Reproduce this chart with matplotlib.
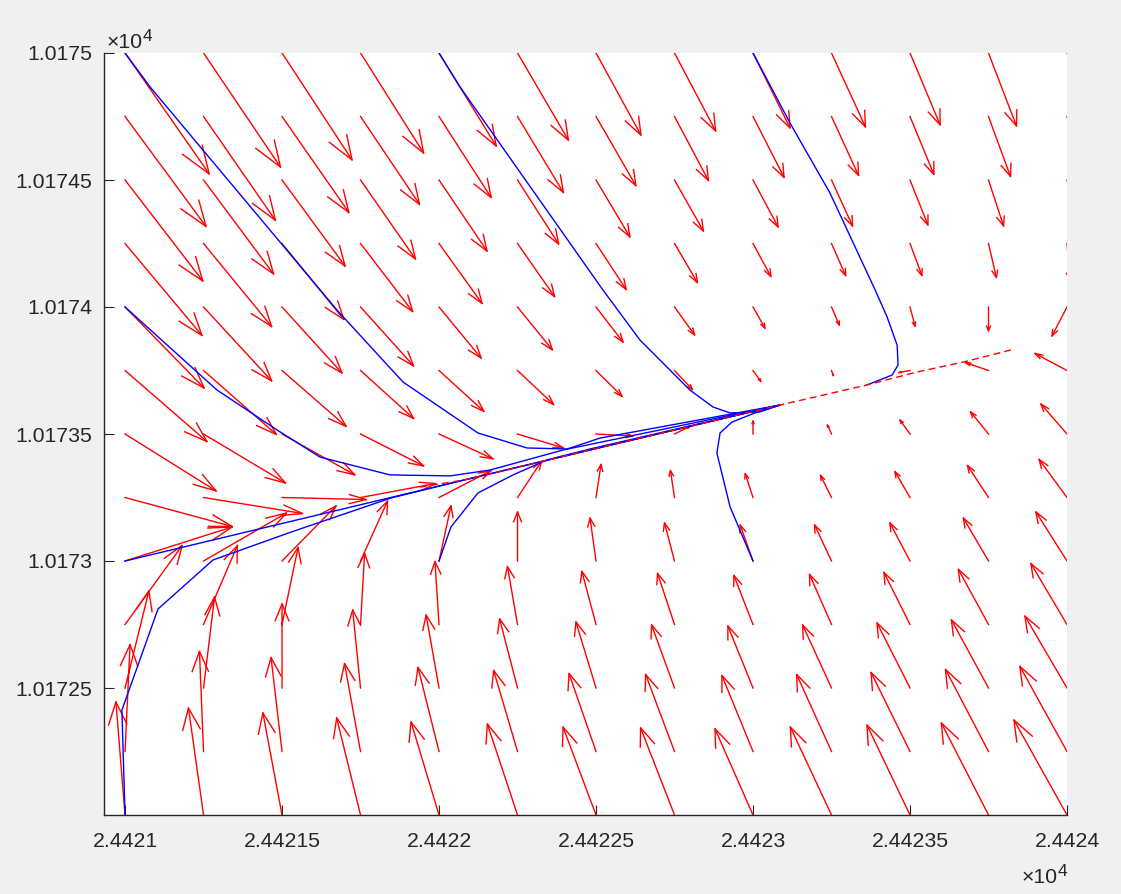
import numpy as np
import matplotlib.pyplot as plt

plt.rcParams['font.family'] = ['Liberation Sans', 'DejaVu Sans']

# quiver grid
grid_x = [24421.0, 24421.25, 24421.5, 24421.75, 24422.0, 24422.25, 24422.5,
          24422.75, 24423.0, 24423.25, 24423.5, 24423.75, 24424.0]
grid_y = [10172.0, 10172.25, 10172.5, 10172.75, 10173.0, 10173.25, 10173.5,
          10173.75, 10174.0, 10174.25, 10174.5, 10174.75, 10175.0]

# arrow components (as drawn), rows go from y=10172 up to y=10175
U = [
    [-0.029, -0.048, -0.061, -0.076, -0.089, -0.096, -0.105, -0.108, -0.121, -0.131, -0.137, -0.150, -0.169],
    [0.016, -0.013, -0.035, -0.051, -0.067, -0.076, -0.086, -0.092, -0.099, -0.111, -0.124, -0.137, -0.150],
    [0.076, 0.035, 0.000, -0.025, -0.041, -0.057, -0.064, -0.073, -0.080, -0.092, -0.105, -0.118, -0.134],
    [0.182, 0.108, 0.051, 0.013, -0.013, -0.032, -0.045, -0.054, -0.061, -0.070, -0.083, -0.096, -0.115],
    [0.341, 0.264, 0.172, 0.086, 0.038, 0.000, -0.019, -0.032, -0.041, -0.054, -0.064, -0.080, -0.099],
    [0.341, 0.315, 0.268, 0.239, 0.166, 0.076, 0.016, -0.013, -0.025, -0.035, -0.048, -0.067, -0.089],
    [0.290, 0.261, 0.232, 0.201, 0.172, 0.146, 0.118, 0.051, 0.000, -0.013, -0.032, -0.057, -0.083],
    [0.261, 0.232, 0.204, 0.169, 0.143, 0.115, 0.083, 0.057, 0.025, 0.006, -0.035, -0.073, -0.102],
    [0.252, 0.217, 0.191, 0.169, 0.134, 0.111, 0.086, 0.064, 0.038, 0.025, 0.016, 0.000, -0.048],
    [0.245, 0.217, 0.197, 0.166, 0.137, 0.118, 0.096, 0.073, 0.057, 0.045, 0.038, 0.025, 0.010],
    [0.248, 0.223, 0.201, 0.175, 0.153, 0.131, 0.108, 0.092, 0.080, 0.067, 0.057, 0.048, 0.041],
    [0.258, 0.229, 0.213, 0.188, 0.166, 0.146, 0.127, 0.108, 0.099, 0.086, 0.076, 0.070, 0.064],
    [0.268, 0.245, 0.223, 0.201, 0.182, 0.162, 0.143, 0.131, 0.118, 0.108, 0.096, 0.089, 0.080],
]
V = [
    [0.445, 0.421, 0.402, 0.382, 0.366, 0.358, 0.346, 0.343, 0.339, 0.346, 0.354, 0.362, 0.374],
    [0.421, 0.394, 0.370, 0.346, 0.331, 0.319, 0.307, 0.303, 0.299, 0.303, 0.311, 0.323, 0.335],
    [0.382, 0.358, 0.331, 0.307, 0.287, 0.272, 0.260, 0.248, 0.244, 0.248, 0.256, 0.268, 0.283],
    [0.311, 0.311, 0.303, 0.280, 0.248, 0.228, 0.209, 0.201, 0.193, 0.197, 0.205, 0.217, 0.240],
    [0.134, 0.189, 0.217, 0.236, 0.217, 0.193, 0.169, 0.150, 0.142, 0.142, 0.150, 0.169, 0.193],
    [-0.114, -0.063, -0.008, 0.055, 0.106, 0.142, 0.130, 0.106, 0.094, 0.087, 0.102, 0.126, 0.150],
    [-0.224, -0.193, -0.161, -0.126, -0.098, -0.055, -0.008, 0.031, 0.051, 0.035, 0.055, 0.087, 0.118],
    [-0.280, -0.252, -0.220, -0.189, -0.161, -0.134, -0.102, -0.075, -0.043, -0.020, -0.008, 0.031, 0.067],
    [-0.319, -0.291, -0.260, -0.232, -0.201, -0.169, -0.138, -0.110, -0.083, -0.071, -0.075, -0.094, -0.114],
    [-0.362, -0.327, -0.299, -0.268, -0.236, -0.209, -0.181, -0.154, -0.130, -0.126, -0.126, -0.134, -0.146],
    [-0.398, -0.370, -0.339, -0.311, -0.280, -0.252, -0.224, -0.201, -0.185, -0.181, -0.177, -0.181, -0.181],
    [-0.433, -0.409, -0.378, -0.346, -0.319, -0.299, -0.272, -0.252, -0.240, -0.232, -0.228, -0.236, -0.236],
    [-0.476, -0.449, -0.421, -0.394, -0.366, -0.343, -0.323, -0.307, -0.295, -0.291, -0.283, -0.287, -0.287],
]

# trajectories (blue)
traj1_x = [24421.0, 24421.080, 24421.675, 24421.885, 24422.124, 24422.280, 24422.408, 24422.513, 24423.086]
traj1_y = [10175.0, 10174.866, 10173.988, 10173.705, 10173.504, 10173.445, 10173.441, 10173.484, 10173.614]
traj2_x = [24421.0, 24421.293, 24421.484, 24421.621, 24421.844, 24422.035, 24422.162, 24422.395, 24423.086]
traj2_y = [10174.0, 10173.673, 10173.516, 10173.409, 10173.339, 10173.335, 10173.358, 10173.437, 10173.614]
traj3_x = [24421.0, 24422.080, 24422.576, 24423.086]
traj3_y = [10173.0, 10173.319, 10173.465, 10173.614]
traj4_x = [24421.0, 24420.990, 24421.105, 24421.280, 24421.529, 24421.847, 24422.080, 24422.576, 24423.086]
traj4_y = [10172.0, 10172.413, 10172.811, 10173.004, 10173.114, 10173.248, 10173.319, 10173.465, 10173.614]
traj5_x = [24422.0, 24422.038, 24422.124, 24422.236, 24422.344, 24422.481, 24423.086]
traj5_y = [10173.0, 10173.134, 10173.268, 10173.339, 10173.398, 10173.441, 10173.614]
traj6_x = [24423.0, 24422.927, 24422.885, 24422.895, 24422.933, 24423.006, 24423.086]
traj6_y = [10173.0, 10173.213, 10173.425, 10173.504, 10173.547, 10173.583, 10173.614]
traj7_x = [24422.0, 24422.067, 24422.522, 24422.640, 24422.799, 24422.873, 24422.927, 24423.022, 24423.086]
traj7_y = [10175.0, 10174.866, 10174.067, 10173.870, 10173.673, 10173.606, 10173.583, 10173.587, 10173.614]
traj8_x = [24423.0, 24423.118, 24423.245, 24423.389, 24423.427, 24423.459, 24423.462, 24423.443, 24423.404, 24423.363]
traj8_y = [10175.0, 10174.724, 10174.449, 10174.067, 10173.961, 10173.850, 10173.772, 10173.732, 10173.713, 10173.693]

# red dashed curve
dash_x = [24421.939, 24422.080, 24422.576, 24423.086, 24423.363, 24423.522, 24423.669, 24423.834]
dash_y = [10173.291, 10173.319, 10173.465, 10173.614, 10173.693, 10173.744, 10173.783, 10173.835]

x_ticks = [24421.0, 24421.5, 24422.0, 24422.5, 24423.0, 24423.5, 24424.0]
x_labels = ['2.4421', '2.44215', '2.4422', '2.44225', '2.4423', '2.44235', '2.4424']
y_ticks = [10172.5, 10173.0, 10173.5, 10174.0, 10174.5, 10175.0]
y_labels = ['1.01725', '1.0173', '1.01735', '1.0174', '1.01745', '1.0175']

fig = plt.figure(figsize=(11.21, 8.94), dpi=100, facecolor='#f0f0f0')
ax = fig.add_axes([104 / 1121, 79 / 894, 963 / 1121, 762 / 894])

# matlab style quiver: shafts plus open heads
X, Y = np.meshgrid(grid_x, grid_y)
u = np.array(U)
v = np.array(V)
X = X.ravel(); Y = Y.ravel(); u = u.ravel(); v = v.ravel()
alpha, beta = 0.2, 0.33
nan = np.full(X.size, np.nan)
sx = np.column_stack([X, X + u, nan]).ravel()
sy = np.column_stack([Y, Y + v, nan]).ravel()
hx = np.column_stack([X + u - alpha * (u + beta * v), X + u,
                      X + u - alpha * (u - beta * v), nan]).ravel()
hy = np.column_stack([Y + v - alpha * (v - beta * u), Y + v,
                      Y + v - alpha * (v + beta * u), nan]).ravel()
ax.plot(sx, sy, color='r', lw=1.0)
ax.plot(hx, hy, color='r', lw=1.0)

for tx, ty in [(traj1_x, traj1_y), (traj2_x, traj2_y), (traj3_x, traj3_y),
               (traj4_x, traj4_y), (traj5_x, traj5_y), (traj6_x, traj6_y),
               (traj7_x, traj7_y), (traj8_x, traj8_y)]:
    ax.plot(tx, ty, color='b', lw=1.0)

ax.plot(dash_x, dash_y, color='r', lw=1.0, ls=(0, (5, 3)))

ax.set_xlim(24420.933, 24424)
ax.set_ylim(10172, 10175)
ax.set_xticks(x_ticks)
ax.set_xticklabels(x_labels)
ax.set_yticks(y_ticks)
ax.set_yticklabels(y_labels)

dark = '#262626'
for s in ['top', 'right']:
    ax.spines[s].set_visible(False)
for s in ['left', 'bottom']:
    ax.spines[s].set_color(dark)
    ax.spines[s].set_linewidth(1.0)
ax.tick_params(direction='in', length=7, width=0.8, color=dark,
               labelsize=15.3, labelcolor=dark)
ax.tick_params(axis='x', pad=12)
ax.tick_params(axis='y', pad=8.5)

# exponent labels (x10^4), base text plus raised exponent
ax.annotate('\u00d710', xy=(0, 1), xycoords='axes fraction', xytext=(1.5, 3.6),
            textcoords='offset points', ha='left', va='baseline',
            fontsize=15.3, color=dark)
ax.annotate('4', xy=(0, 1), xycoords='axes fraction', xytext=(28.0, 8.6),
            textcoords='offset points', ha='left', va='baseline',
            fontsize=12.5, color=dark)
ax.annotate('\u00d710', xy=(1, 0), xycoords='axes fraction', xytext=(-6.6, -49),
            textcoords='offset points', ha='right', va='baseline',
            fontsize=15.3, color=dark)
ax.annotate('4', xy=(1, 0), xycoords='axes fraction', xytext=(0.5, -44),
            textcoords='offset points', ha='right', va='baseline',
            fontsize=12.5, color=dark)

fig.savefig('out.png', dpi=100, facecolor=fig.get_facecolor())
